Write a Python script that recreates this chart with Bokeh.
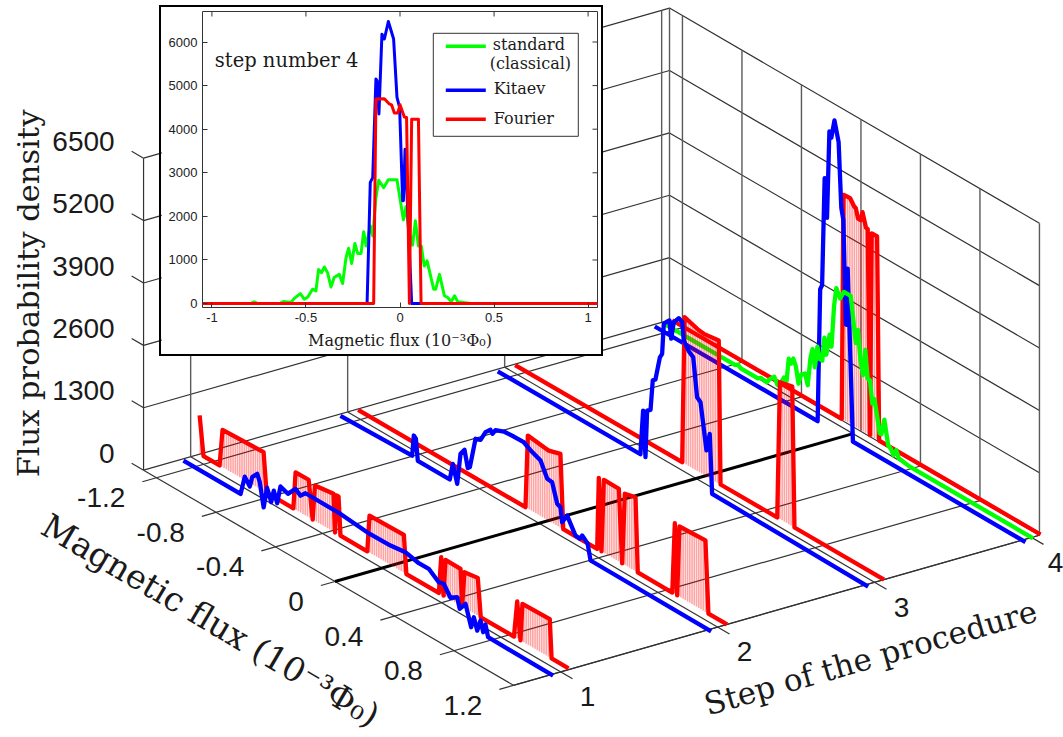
import math
import numpy as np
from bokeh.core.properties import value
from bokeh.embed import file_html
from bokeh.models import FixedTicker
from bokeh.plotting import figure
from bokeh.resources import INLINE

FLUX_TICKS = [-1.2, -0.8, -0.4, 0, 0.4, 0.8, 1.2]
FLUX_LABELS = ["-1.2", "-0.8", "-0.4", "0", "0.4", "0.8", "1.2"]
DENSITY_TICKS = [0, 1300, 2600, 3900, 5200, 6500]
DENSITY_LABELS = ["0", "1300", "2600", "3900", "5200", "6500"]
STEP_TICKS = [1, 2, 3, 4]
STEP_LABELS = ["1", "2", "3", "4"]
INSET_X_TICKS = [-1, -0.5, 0, 0.5, 1]
INSET_Y_TICKS = [0, 1000, 2000, 3000, 4000, 5000, 6000]

red1_f = [-1.29, -1.264, -1.156, -1.136, -0.86, -0.84, -0.66, -0.645, -0.557, -0.53, -0.515, -0.39, -0.38, -0.37, -0.356, -0.343, -0.163, -0.148, 0.083, 0.1, 0.318, 0.334, 0.35, 0.363, 0.464, 0.475, 0.49, 0.58, 0.6, 0.823, 0.845, 0.867, 0.88, 1.064, 1.076, 1.19]
red1_z = [800, 0, 0, 777, 808, 0, 0, 777, 780, 0, 735, 790, 0, 790, 790, 0, 0, 770, 785, 0, 0, 773, 0, 770, 765, 0, 740, 785, 0, 0, 770, 0, 785, 800, 0, 0]
blue1_f = [-1.272, -0.888, -0.86, -0.826, -0.81, -0.776, -0.759, -0.733, -0.71, -0.682, -0.665, -0.642, -0.62, -0.57, -0.519, -0.485, -0.452, -0.216, -0.037, 0.12, 0.22, 0.31, 0.377, 0.444, 0.478, 0.523, 0.568, 0.585, 0.624, 0.662, 0.68, 0.703, 0.725, 0.743, 0.758, 0.776, 1.213]
blue1_z = [0, 0, 410, 265, 490, 620, 477, 0, 450, 200, 470, 250, 640, 575, 770, 690, 800, 795, 735, 742, 783, 715, 720, 562, 590, 380, 473, 262, 435, 17, 256, 20, 270, 58, 245, 14, 0]

red2_f = [-1.28, -0.155, -0.139, 0.002, 0.08, 0.099, 0.327, 0.338, 0.356, 0.372, 0.473, 0.495, 0.513, 0.585, 0.6, 0.832, 0.849, 0.865, 0.88, 1.055, 1.075, 1.2]
red2_z = [0, 0, 1520, 1460, 1535, 0, 0, 1500, 0, 1520, 1515, 0, 1483, 1540, 0, 0, 1475, 0, 1462, 1487, 0, 0]
blue2_f = [-1.272, -0.79, -0.779, -0.765, -0.752, -0.537, -0.517, -0.487, -0.465, -0.438, -0.416, -0.402, -0.364, -0.33, -0.297, -0.264, -0.25, -0.23, -0.174, -0.107, -0.04, 0.017, 0.073, 0.118, 0.151, 0.185, 0.207, 0.218, 0.252, 0.308, 0.337, 0.353, 0.39, 0.409, 1.22]
blue2_z = [0, 40, 480, 440, 0, 0, 362, 0, 665, 797, 454, 500, 1160, 1200, 1420, 1527, 1470, 1580, 1654, 1670, 1672, 1570, 1496, 1196, 1183, 796, 765, 470, 670, 354, 340, 437, 331, 17, 0]

red3_f = [-1.28, -0.157, -0.141, -0.045, -0.011, 0.089, 0.101, 0.482, 0.5, 0.583, 0.598, 1.2]
red3_z = [0, 0, 3050, 2950, 2937, 2980, 0, 0, 2850, 2910, 0, 0]
blue3_f = [-1.27, -0.311, -0.293, -0.277, -0.266, -0.243, -0.228, -0.21, -0.18, -0.165, -0.154, -0.136, -0.116, -0.104, -0.087, -0.053, -0.03, -0.02, 0.014, 0.044, 0.07, 0.093, 0.111, 0.133, 0.155, 0.171, 1.22]
blue3_z = [0, 0, 943, 0, 990, 1048, 1688, 1740, 2256, 2356, 3000, 3070, 3137, 2780, 3150, 3300, 3260, 2896, 2733, 2660, 1875, 1813, 1396, 880, 1265, 44, 0]

red4_f = [-1.28, -0.14, -0.128, -0.083, -0.057, -0.045, -0.03, -0.012, 0.0, 0.023, 0.035, 0.05, 0.062, 0.098, 0.112, 1.197]
red4_z = [0, 0, 4690, 4700, 4580, 4560, 4370, 4370, 4560, 4280, 4270, 0, 4230, 4230, 0, 0]
blue4_f = [-1.27, -0.175, -0.158, -0.145, -0.128, -0.122, -0.112, -0.096, -0.083, -0.062, -0.034, -0.016, -0.002, 0.014, 0.018, 0.027, 0.062, 1.222]
blue4_z = [0, 0, 2780, 2890, 5150, 5110, 4350, 6180, 6070, 6470, 6070, 4730, 4500, 2360, 2360, 3540, 0, 0]
green4_f = [-1.27, -0.795, -0.775, -0.755, -0.64, -0.62, -0.58, -0.562, -0.53, -0.509, -0.49, -0.465, -0.447, -0.433, -0.417, -0.402, -0.385, -0.367, -0.35, -0.323, -0.305, -0.287, -0.273, -0.257, -0.24, -0.225, -0.207, -0.193, -0.18, -0.158, -0.145, -0.128, -0.113, -0.087, -0.062, -0.016, 0.002, 0.018, 0.032, 0.05, 0.067, 0.082, 0.098, 0.113, 0.129, 0.144, 0.179, 0.19, 0.21, 0.236, 0.254, 0.272, 0.29, 0.307, 0.378, 1.21]
green4_z = [0, 0, 40, 0, 0, 45, 25, 120, 230, 100, 150, 330, 290, 780, 710, 840, 710, 380, 600, 670, 460, 1050, 1270, 920, 1380, 1150, 1150, 1650, 1320, 1780, 1550, 2430, 2830, 2660, 2840, 2840, 2360, 1920, 2220, 1600, 1340, 1900, 1320, 1320, 860, 980, 330, 330, 670, 180, 140, 40, 180, 40, 0, 0]

STEM_FLUX = [
    -1.300, -1.285, -1.270, -1.255, -1.240, -1.155, -1.140, -1.125, -1.110, -1.095, -1.080, -1.065, -1.050, -1.035, -1.020,
    -1.005, -0.990, -0.975, -0.960, -0.945, -0.930, -0.915, -0.900, -0.885, -0.870, -0.855, -0.840, -0.670, -0.655, -0.640,
    -0.625, -0.610, -0.595, -0.580, -0.565, -0.550, -0.535, -0.520, -0.505, -0.490, -0.475, -0.460, -0.445, -0.430, -0.415,
    -0.400, -0.385, -0.370, -0.355, -0.160, -0.145, -0.130, -0.115, -0.100, -0.085, -0.070, -0.055, -0.040, -0.025, -0.010,
    0.005, 0.020, 0.035, 0.050, 0.065, 0.080, 0.095, 0.335, 0.350, 0.365, 0.380, 0.395, 0.410, 0.425, 0.440,
    0.455, 0.470, 0.485, 0.500, 0.515, 0.530, 0.545, 0.560, 0.575, 0.590, 0.830, 0.845, 0.860, 0.875, 0.890,
    0.905, 0.920, 0.935, 0.950, 0.965, 0.980, 0.995, 1.010, 1.025, 1.040, 1.055, 1.070,
]

SANS = value("Liberation Sans")
SERIF = value("DejaVu Serif")
RED, BLUE, GREEN = "#ff0000", "#0000ff", "#00ff00"
GRID = "#333333"
WALL = "#5a5a5a"
INK = "#1a1a1a"

S0, S1, F0, F1, ZMAX = 0.7, 4.05, -1.287, 1.2, 6500
CURVE_W = 4.3


def project(s, f, z=0):
    s, f, z = np.asarray(s, float), np.asarray(f, float), np.asarray(z, float)
    x = 334.5 + 157 * (s - S0) + 148.75 * f
    y = 581 - 44.8 * (s - S0) + 86.5 * f - 0.048 * z
    return x, y


p = figure(width=1063, height=737, x_range=(0, 1063), y_range=(737, 0), output_backend="svg",
           toolbar_location=None, min_border=0, outline_line_color=None,
           styles={"position": "absolute", "left": "0px", "top": "0px"})
p.axis.visible = False
p.grid.visible = False


def path(ss, fs, zs, color=GRID, width=1.2):
    x, y = project(ss, fs, zs)
    p.line(x.tolist(), y.tolist(), line_color=color, line_width=width)


# walls, floor and ticks
for z in DENSITY_TICKS:
    path([S0, S1, S1], [F0, F0, F1], [z, z, z])
    path([S0, S0], [F0 - 0.08, F0], [z, z])
for s in STEP_TICKS:
    path([s, s], [F0, F0], [0, ZMAX], WALL, 1.4)
    path([s, s], [F0, F1 + 0.08], [0, 0])
for f in FLUX_TICKS:
    path([S1, S1], [f, f], [0, ZMAX], WALL, 1.4)
    if f != 0:
        path([S0 - 0.09, S1], [f, f], [0, 0])
path([S0, S0], [F0, F0], [0, ZMAX])
path([S1, S1], [F0, F0], [0, ZMAX], WALL, 1.4)
path([S0, S0], [F0, F1], [0, 0])
path([S0, S1], [F1, F1], [0, 0])
path([S0 - 0.09, S0], [0, 0], [0, 0])
path([S0, 4.0], [0, 0], [0, 0], "#000000", 3)


def red_curve(step, fs, zs):
    s = step + 0.06
    sf = np.array(STEM_FLUX)
    sz = np.interp(sf, fs, zs)
    keep = (sz > 100) & (sf >= min(fs)) & (sf <= max(fs))
    x0, y0 = project(s, sf[keep], 0)
    x1, y1 = project(s, sf[keep], sz[keep])
    p.segment(x0.tolist(), y0.tolist(), x1.tolist(), y1.tolist(), line_color=RED, line_alpha=0.36, line_width=1.6)
    x, y = project(s, fs, zs)
    p.line(x.tolist(), y.tolist(), line_color=RED, line_width=CURVE_W, line_join="round")


def curve(s, fs, zs, color):
    x, y = project(s, fs, zs)
    p.line(x.tolist(), y.tolist(), line_color=color, line_width=CURVE_W, line_join="round")


red_curve(4, red4_f, red4_z)
curve(3.94, blue4_f, blue4_z, BLUE)
curve(4.0, green4_f, green4_z, GREEN)
red_curve(3, red3_f, red3_z)
curve(2.94, blue3_f, blue3_z, BLUE)
red_curve(2, red2_f, red2_z)
curve(1.94, blue2_f, blue2_z, BLUE)
red_curve(1, red1_f, red1_z)
curve(0.94, blue1_f, blue1_z, BLUE)

# tick labels
x, y = project([S0] * 6, [F0 - 0.08] * 6, DENSITY_TICKS)
p.text(x.tolist(), y.tolist(), text=DENSITY_LABELS, text_font=SANS, text_font_size="28px", text_align="right",
       text_baseline="middle", x_offset=-17, y_offset=-10, text_color=INK)
x, y = project([S0 - 0.09] * 7, FLUX_TICKS, 0)
p.text(x.tolist(), y.tolist(), text=FLUX_LABELS, text_font=SANS, text_font_size="28px", text_align="right",
       text_baseline="middle", x_offset=-17, y_offset=16, text_color=INK)
x, y = project(STEP_TICKS, [F1 + 0.08] * 4, 0)
p.text(x.tolist(), y.tolist(), text=STEP_LABELS, text_font=SANS, text_font_size="28px", text_align="center",
       text_baseline="middle", x_offset=[15, 15, 15, 12], y_offset=18, text_color=INK)

# axis titles
p.text([28], [293], text=["Flux probability density"], text_font=SERIF, text_font_size="30.5px", text_align="center",
       text_baseline="middle", angle=math.pi / 2, text_color=INK)
p.text([210], [620], text=["Magnetic flux (10⁻³Φ₀)"], text_font=SERIF, text_font_size="33.5px", text_align="center",
       text_baseline="middle", angle=math.radians(-30.5), text_color=INK)
p.text([870], [657], text=["Step of the procedure"], text_font=SERIF, text_font_size="31px", text_align="center",
       text_baseline="middle", angle=math.radians(16), text_color=INK)

# inset ---------------------------------------------------------------------
XL, XR, YB, YT = -1.05, 1.05, -90, 6700
q = figure(width=444, height=351, x_range=(XL, XR), y_range=(YB, YT), output_backend="svg",
           toolbar_location=None, min_border_left=41, min_border_right=8, min_border_top=4, min_border_bottom=51,
           background_fill_color="white", border_fill_color="white", outline_line_color="#333333",
           styles={"position": "absolute", "left": "159px", "top": "5px", "border": "2px solid #000000"})
q.grid.visible = False
q.xaxis.ticker = FixedTicker(ticks=INSET_X_TICKS)
q.xaxis.major_label_overrides = {-1: "-1", -0.5: "-0.5", 0: "0", 0.5: "0.5", 1: "1"}
q.yaxis.ticker = FixedTicker(ticks=INSET_Y_TICKS)
for ax in (q.xaxis[0], q.yaxis[0]):
    ax.major_tick_in, ax.major_tick_out = 5, 0
    ax.minor_tick_line_color = None
    ax.axis_line_color = None
    ax.major_tick_line_color = "#333333"
    ax.major_label_text_font = "Liberation Sans"
    ax.major_label_text_font_size = "13px"
    ax.major_label_text_color = "#222222"
    ax.major_label_standoff = 5
q.xaxis[0].axis_label = "Magnetic flux (10⁻³Φ₀)"
q.xaxis[0].axis_label_text_font = "DejaVu Serif"
q.xaxis[0].axis_label_text_font_style = "normal"
q.xaxis[0].axis_label_text_font_size = "16px"
q.xaxis[0].axis_label_text_color = INK
q.xaxis[0].axis_label_standoff = 6

tick_dx = 5 / 395.0 * (XR - XL)
tick_dy = 5 / 296.0 * (YT - YB)
q.segment(INSET_X_TICKS, [YT] * 5, INSET_X_TICKS, [YT - tick_dy] * 5, line_color="#333333", line_width=1)
q.segment([XR] * 7, INSET_Y_TICKS, [XR - tick_dx] * 7, INSET_Y_TICKS, line_color="#333333", line_width=1)

q.line(green4_f, green4_z, line_color=GREEN, line_width=3, line_join="round")
q.line(blue4_f, blue4_z, line_color=BLUE, line_width=3, line_join="round")
q.line(red4_f, red4_z, line_color=RED, line_width=3, line_join="round")


def ix(px):
    return XL + (px - 201.7) / 395.0 * (XR - XL)


def iy(py):
    return YT - (py - 10.7) / 296.0 * (YT - YB)


q.quad(left=[ix(432.5)], right=[ix(577.5)], top=[iy(32.5)], bottom=[iy(135.5)], fill_color="white",
       line_color="#333333", line_width=1)
for py, c in zip((45.5, 89.5, 118.5), (GREEN, BLUE, RED)):
    q.line([ix(445), ix(485)], [iy(py), iy(py)], line_color=c, line_width=3.5)
q.text([ix(492), ix(489), ix(493), ix(493)], [iy(44), iy(62.5), iy(88), iy(117.5)],
       text=["standard", "(classical)", "Kitaev", "Fourier"], text_font=SERIF, text_font_size="16px",
       text_baseline="middle", text_color=INK)
q.text([ix(214)], [iy(60)], text=["step number 4"], text_font=SERIF, text_font_size="19.5px",
       text_baseline="middle", text_color=INK)

html = file_html([p, q], INLINE)
open("out.html", "w").write(html)
